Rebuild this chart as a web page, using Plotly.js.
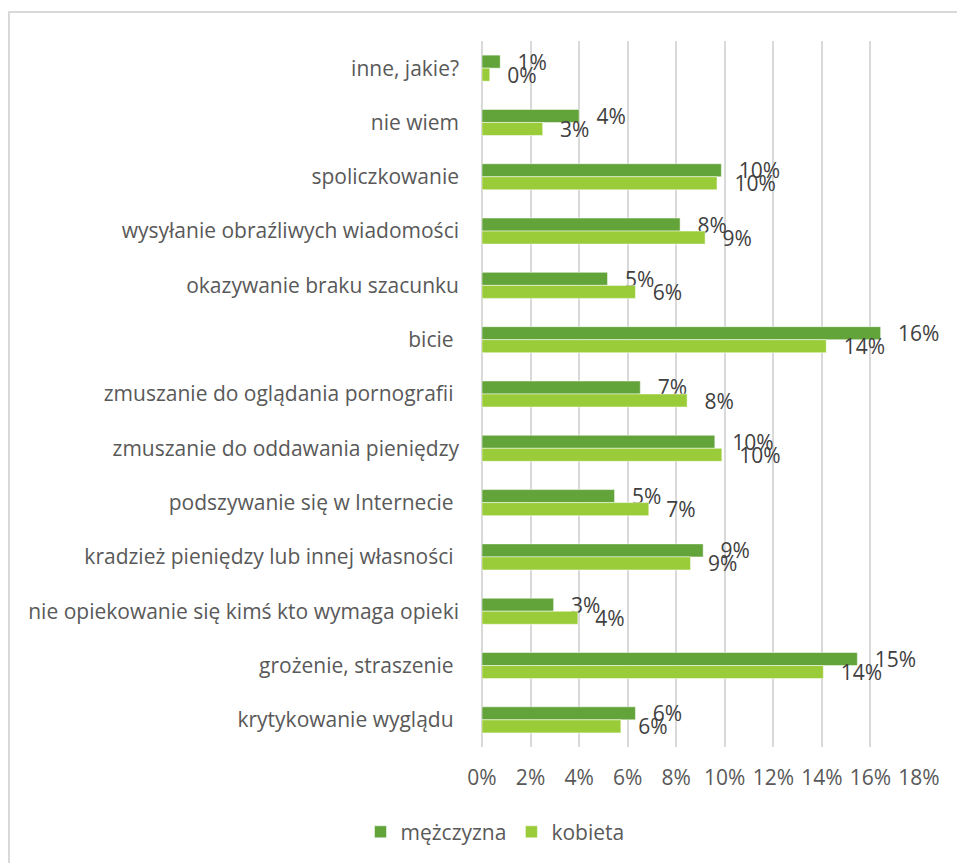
<!DOCTYPE html>
<html>
<head>
<meta charset="utf-8">
<script src="https://cdn.plot.ly/plotly-3.0.1.min.js"></script>
<style>
  html, body { margin: 0; padding: 0; background: #fff; }
  #wrap { position: relative; width: 957px; height: 863px; overflow: hidden; }
  #chart { position: absolute; left: 0; top: 0; width: 957px; height: 863px; }
  #frame { position: absolute; left: 8px; top: 11px; width: 1000px; height: 900px;
           border-left: 2px solid #d9d9d9; border-top: 2px solid #d9d9d9; pointer-events: none; }
</style>
</head>
<body>
<div id="wrap">
  <div id="chart"></div>
  <div id="frame"></div>
</div>
<script>
const categories = [
  "inne, jakie?",
  "nie wiem",
  "spoliczkowanie",
  "wysyłanie obraźliwych wiadomości",
  "okazywanie braku szacunku",
  "bicie\u00a0",
  "zmuszanie do oglądania pornografii\u00a0",
  "zmuszanie do oddawania pieniędzy",
  "podszywanie się w Internecie\u00a0",
  "kradzież pieniędzy lub innej własności\u00a0",
  "nie opiekowanie się kimś kto wymaga opieki",
  "grożenie, straszenie\u00a0",
  "krytykowanie wyglądu\u00a0"
];
const menValues   = [0.0075, 0.040, 0.0986, 0.0816, 0.0517, 0.1642, 0.0652, 0.0959, 0.0546, 0.0911, 0.0295, 0.1546, 0.0632];
const womenValues = [0.0032, 0.025, 0.0968, 0.0919, 0.0632, 0.1418, 0.0845, 0.0988, 0.0687, 0.0859, 0.0395, 0.1406, 0.0572];
const menLabels   = ["1%","4%","10%","8%","5%","16%","7%","10%","5%","9%","3%","15%","6%"];
const womenLabels = ["0%","3%","10%","9%","6%","14%","8%","10%","7%","9%","4%","14%","6%"];
const xTickVals = [0,0.02,0.04,0.06,0.08,0.10,0.12,0.14,0.16,0.18];

const fontFam = "'Open Sans', 'Liberation Sans', sans-serif";
const FS = 21;

const traces = [
  {
    type: "bar", orientation: "h", name: "mężczyzna",
    y: categories, x: menValues, text: menLabels,
    texttemplate: "\u00a0\u00a0\u2009%{text}",
    textposition: "outside", cliponaxis: false, constraintext: "none",
    textfont: { family: fontFam, size: FS, color: "#404040" },
    marker: { color: "#62a33a", line: { color: "#ffffff", width: 0.5 } },
    hoverinfo: "skip"
  },
  {
    type: "bar", orientation: "h", name: "kobieta",
    y: categories, x: womenValues, text: womenLabels,
    texttemplate: "\u00a0\u00a0\u2009%{text}",
    textposition: "outside", cliponaxis: false, constraintext: "none",
    textfont: { family: fontFam, size: FS, color: "#404040" },
    marker: { color: "#9acc39", line: { color: "#ffffff", width: 0.5 } },
    hoverinfo: "skip"
  }
];

const layout = {
  width: 957, height: 863,
  margin: { l: 482, r: 38, t: 41, b: 115, pad: 0 },
  paper_bgcolor: "#ffffff", plot_bgcolor: "#ffffff",
  font: { family: fontFam, size: FS, color: "#595959" },
  barmode: "group",
  bargap: 0.52, bargroupgap: 0,
  showlegend: true,
  legend: {
    orientation: "h", x: -0.278, xanchor: "left", y: -0.119, yanchor: "middle",
    font: { family: fontFam, size: FS, color: "#595959" },
    itemwidth: 30, tracegroupgap: 0, traceorder: "normal"
  },
  xaxis: {
    range: [0, 0.18], tickvals: xTickVals, tickformat: ".0%",
    showgrid: true, gridcolor: "#d9d9d9", gridwidth: 2,
    zeroline: true, zerolinecolor: "#d9d9d9", zerolinewidth: 2,
    showline: false, ticks: "", ticklabelstandoff: 16,
    tickfont: { family: fontFam, size: FS, color: "#595959" },
    fixedrange: true
  },
  yaxis: {
    type: "category", autorange: "reversed",
    showgrid: false, zeroline: false, showline: false, ticks: "",
    ticklabelstandoff: 22,
    tickfont: { family: fontFam, size: FS, color: "#595959" },
    fixedrange: true
  }
};

Plotly.newPlot("chart", traces, layout, { staticPlot: true, displayModeBar: false });
</script>
</body>
</html>
